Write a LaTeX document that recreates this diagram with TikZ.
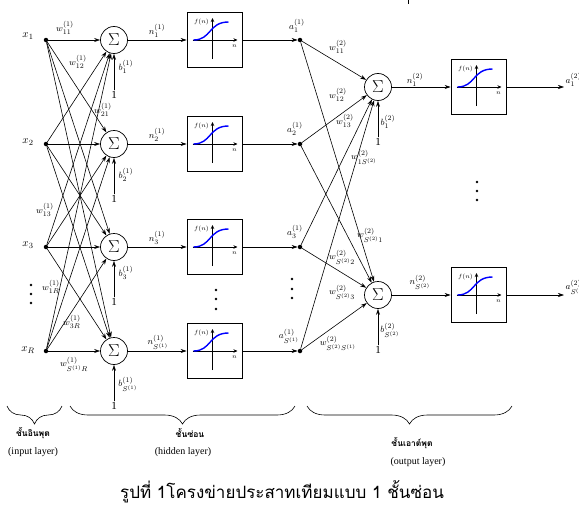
\documentclass[tikz,border=0pt]{standalone}
\usepackage{fontspec}
\setmainfont{Liberation Serif}
\newfontfamily\thaifont[Script=Thai]{Loma}
\usetikzlibrary{arrows.meta,decorations.pathreplacing}
\begin{document}
\begin{tikzpicture}[x=1pt,y=-1pt,
  conn/.style={line width=0.6pt,-{Stealth[length=6pt,width=4pt]}},
  axisarrow/.style={line width=0.7pt,-{Stealth[length=4pt,width=3.5pt]}},
  indot/.style={circle,fill=black,inner sep=0pt,minimum size=4.5pt},
  sumnode/.style={circle,draw,line width=0.7pt,minimum size=27pt,inner sep=0pt,font=\fontsize{19}{20}\selectfont},
  tfbox/.style={draw,line width=0.9pt,minimum width=55pt,minimum height=55pt,inner sep=0pt},
  lbl/.style={font=\fontsize{9.5}{10}\selectfont,inner sep=0.5pt},
  onelbl/.style={font=\fontsize{11}{12}\selectfont,inner sep=1pt},
  tiny/.style={font=\fontsize{6}{6}\selectfont,inner sep=0pt},
  sig/.style={blue,line width=1.4pt},
  vdot/.style={fill=black},
  brc/.style={decorate,decoration={brace,mirror,amplitude=18pt},line width=0.6pt},
  thlbl/.style={font=\thaifont\bfseries\fontsize{8.5}{9}\selectfont,inner sep=0pt},
  enlbl/.style={font=\fontsize{10}{11}\selectfont,inner sep=0pt}
]
\useasboundingbox (0,0) rectangle (579,506);

% ---------- hidden layer rows ----------
\foreach \i/\y in {1/40,2/144,3/247,4/351} {
  \node[indot] (x\i) at (46,\y) {};
  \node[sumnode] (s\i) at (114,\y) {$\Sigma$};
  \node[tfbox] (f\i) at (214.5,\y) {};
  \node[indot] (a\i) at (300,\y) {};
  \node[onelbl] (one\i) at (114,\y+55) {1};
  \draw[conn] (one\i) -- (s\i);
  \draw[conn] (s\i) -- (f\i);
  \draw[conn] (f\i) -- (a\i);
  \begin{scope}[shift={(214.5,\y)}]
    \draw[axisarrow] (-22,0) -- (23,0);
    \draw[axisarrow] (-2,19) -- (-2,-22);
    \draw[sig] (-21,0) .. controls (-3,0) and (-6,-18) .. (14,-18);
    \node[tiny] (fn\i) at (-13,-18) {$f(n)$};
    \node[tiny] (nn\i) at (20,6) {$n$};
  \end{scope}
}

% full connections input -> hidden
\foreach \i in {1,...,4} {
  \foreach \j in {1,...,4} {
    \draw[conn] (x\i) -- (s\j);
  }
}

% ---------- output layer ----------
\foreach \k/\y in {1/87,2/295} {
  \node[sumnode] (t\k) at (378,\y) {$\Sigma$};
  \node[tfbox] (g\k) at (478.5,\y) {};
  \node[onelbl] (oo\k) at (378,\y+55) {1};
  \coordinate (out\k) at (564,\y);
  \draw[conn] (oo\k) -- (t\k);
  \draw[conn] (t\k) -- (g\k);
  \draw[conn] (g\k) -- (out\k);
  \begin{scope}[shift={(478.5,\y)}]
    \draw[axisarrow] (-22,0) -- (23,0);
    \draw[axisarrow] (-2,19) -- (-2,-22);
    \draw[sig] (-21,0) .. controls (-3,0) and (-6,-18) .. (14,-18);
    \node[tiny] (gfn\k) at (-13,-18) {$f(n)$};
    \node[tiny] (gnn\k) at (20,6) {$n$};
  \end{scope}
}

% full connections hidden -> output
\foreach \i in {1,...,4} {
  \foreach \k in {1,2} {
    \draw[conn] (a\i) -- (t\k);
  }
}

% ---------- labels: inputs ----------
\node[font=\fontsize{11}{12}\selectfont] (lx1) at (28,36) {$x_1$};
\node[font=\fontsize{11}{12}\selectfont] (lx2) at (28,142) {$x_2$};
\node[font=\fontsize{11}{12}\selectfont] (lx3) at (28,245) {$x_3$};
\node[font=\fontsize{11}{12}\selectfont] (lxR) at (28,350) {$x_R$};

% weights layer 1
\node[lbl] (w11) at (65,28) {$w^{(1)}_{11}$};
\node[lbl] (w12) at (78,62) {$w^{(1)}_{12}$};
\node[lbl] (w21) at (103,110) {$w^{(1)}_{21}$};
\node[lbl] (w13) at (45,210) {$w^{(1)}_{13}$};
\node[lbl] (w1R) at (51,287) {$w^{(1)}_{1R}$};
\node[lbl] (w3R) at (72,322) {$w^{(1)}_{3R}$};
\node[lbl] (wSR) at (74,364) {$w^{(1)}_{S^{(1)}R}$};

% n, b, a labels layer 1
\node[lbl] (n1) at (157,31) {$n^{(1)}_1$};
\node[lbl] (n2) at (157,135) {$n^{(1)}_2$};
\node[lbl] (n3) at (157,238) {$n^{(1)}_3$};
\node[lbl] (n4) at (158,342) {$n^{(1)}_{S^{(1)}}$};
\node[lbl] (b1) at (126,67) {$b^{(1)}_1$};
\node[lbl] (b2) at (126,175) {$b^{(1)}_2$};
\node[lbl] (b3) at (126,273) {$b^{(1)}_3$};
\node[lbl] (b4) at (128,384) {$b^{(1)}_{S^{(1)}}$};
\node[lbl] (la1) at (297,26) {$a^{(1)}_1$};
\node[lbl] (la2) at (295,129) {$a^{(1)}_2$};
\node[lbl] (la3) at (295,232) {$a^{(1)}_3$};
\node[lbl] (la4) at (289,336) {$a^{(1)}_{S^{(1)}}$};

% weights layer 2
\node[lbl] (v11) at (338,47) {$w^{(2)}_{11}$};
\node[lbl] (v12) at (338,95) {$w^{(2)}_{12}$};
\node[lbl] (v13) at (345,121) {$w^{(2)}_{13}$};
\node[lbl] (v1S) at (364,157) {$w^{(2)}_{1S^{(2)}}$};
\node[lbl] (vS1) at (370,235) {$w^{(2)}_{S^{(2)}1}$};
\node[lbl] (vS2) at (342,257) {$w^{(2)}_{S^{(2)}2}$};
\node[lbl] (vS3) at (342,292) {$w^{(2)}_{S^{(2)}3}$};
\node[lbl] (vSS) at (338,343) {$w^{(2)}_{S^{(2)}S^{(1)}}$};

% n, b, a labels layer 2
\node[lbl] (m1) at (415,80) {$n^{(2)}_1$};
\node[lbl] (m2) at (420,282) {$n^{(2)}_{S^{(2)}}$};
\node[lbl] (c1) at (388,122) {$b^{(2)}_1$};
\node[lbl] (c2) at (390,330) {$b^{(2)}_{S^{(2)}}$};
\node[lbl,anchor=west] (o1) at (565,80) {$a^{(2)}_1$};
\node[lbl,anchor=west] (o2) at (565,287) {$a^{(2)}_{S^{(2)}}$};

% vertical ellipses
\foreach \yy in {285,294,303} \fill[vdot] (31,\yy) circle (1.3pt);
\foreach \yy in {290,299,309} \fill[vdot] (216,\yy) circle (1.3pt);
\foreach \yy in {279,289,298} \fill[vdot] (292,\yy) circle (1.3pt);
\foreach \yy in {182,191,200} \fill[vdot] (477,\yy) circle (1.3pt);

% top fragment
\draw[line width=1pt] (408,0) -- (408,4);

% ---------- braces ----------
\draw[brc] (7,406) -- (62,406);
\draw[brc] (70,406) -- (295,406);
\draw[brc] (307,406) -- (512,406);

\node[thlbl] (t1) at (33,433) {ชั้นอินพุต};
\node[enlbl] (e1) at (33,452) {(input layer)};
\node[thlbl] (t2) at (190,433) {ชั้นซ่อน};
\node[enlbl] (e2) at (183,452) {(hidden layer)};
\node[thlbl] (t3) at (412,443) {ชั้นเอาต์พุต};
\node[enlbl] (e3) at (418,462) {(output layer)};

% caption
\node[font=\thaifont\fontsize{17}{18}\selectfont,inner sep=0pt] (cap) at (282,492) {รูปที่ 1โครงข่ายประสาทเทียมแบบ 1 ชั้นซ่อน};
\end{tikzpicture}
\end{document}
